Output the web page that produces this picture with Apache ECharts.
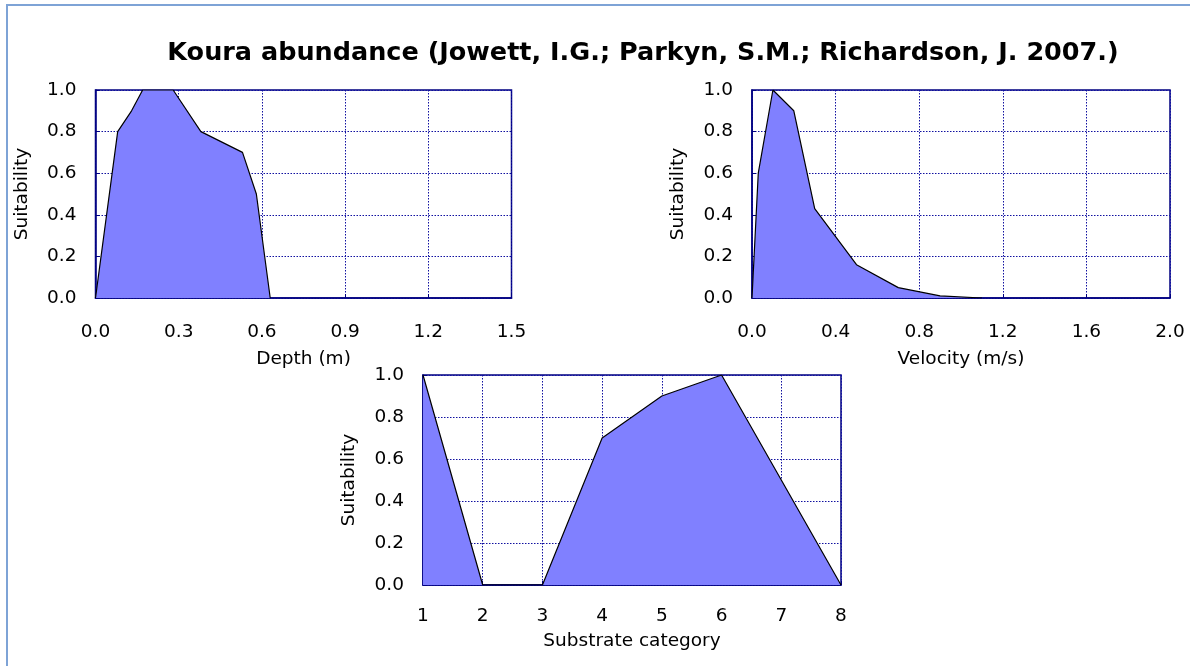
<!DOCTYPE html>
<html>
<head>
<meta charset="utf-8">
<script src="https://cdn.jsdelivr.net/npm/echarts@6/dist/echarts.min.js"></script>
<style>
html,body{margin:0;padding:0;background:#fff;}
#c{width:1190px;height:666px;}
</style>
</head>
<body>
<div id="c"></div>
<script>
// ---- data ----
var titleText = 'Koura abundance (Jowett, I.G.; Parkyn, S.M.; Richardson, J. 2007.)';
var depthX = [0, 0.08, 0.13, 0.17, 0.28, 0.38, 0.53, 0.58, 0.63];
var depthY = [0, 0.8, 0.9, 1.0, 1.0, 0.8, 0.7, 0.5, 0];
var velX = [0, 0.03, 0.1, 0.2, 0.3, 0.5, 0.7, 0.9, 1.1];
var velY = [0, 0.6, 1.0, 0.9, 0.43, 0.16, 0.05, 0.01, 0];
var subX = [1, 2, 3, 4, 5, 6, 7, 8];
var subY = [1, 0, 0, 0.7, 0.9, 1.0, 0.5, 0];
var axisNames = ['Depth (m)', 'Velocity (m/s)', 'Substrate category'];
var yName = 'Suitability';

function pairs(xs, ys){ return xs.map(function(x,i){ return [x, ys[i]]; }); }

var FONT = '"DejaVu Sans", "Liberation Sans", Arial, sans-serif';
var NAVY = '#000080';
var GRIDC = '#1010a0';
var FS = 18.5;

function xAxis(gi, min, max, interval, name, digits, margin, gap){
  return {
    type:'value', gridIndex:gi, min:min, max:max, interval:interval,
    name:name, nameLocation:'middle', nameGap:gap,
    nameTextStyle:{fontFamily:FONT, fontSize:FS, color:'#000'},
    axisLine:{show:true, lineStyle:{color:NAVY, width:1.5}},
    axisTick:{show:true, inside:true, length:4, lineStyle:{color:NAVY}},
    axisLabel:{fontFamily:FONT, fontSize:FS, color:'#000', margin:margin,
      formatter:function(v){ return digits ? Number(v).toFixed(digits) : String(Math.round(v)); }},
    splitLine:{show:true, lineStyle:{color:GRIDC, type:[1.5,1.5], width:1}}
  };
}
function yAxis(gi){
  return {
    type:'value', gridIndex:gi, min:0, max:1, interval:0.2,
    name:yName, nameLocation:'middle', nameGap:64, nameRotate:90,
    nameTextStyle:{fontFamily:FONT, fontSize:FS, color:'#000'},
    axisLine:{show:true, lineStyle:{color:NAVY, width:1.5}},
    axisTick:{show:true, inside:true, length:4, lineStyle:{color:NAVY}},
    axisLabel:{fontFamily:FONT, fontSize:FS, color:'#000', margin:19,
      formatter:function(v){ return Number(v).toFixed(1); }},
    splitLine:{show:true, lineStyle:{color:GRIDC, type:[1.5,1.5], width:1}}
  };
}
function series(gi, data){
  return {
    type:'line', xAxisIndex:gi, yAxisIndex:gi, data:data,
    symbol:'none', silent:true, animation:false,
    lineStyle:{color:'#000', width:1.2},
    areaStyle:{color:'#8080ff', opacity:1}
  };
}

var chart = echarts.init(document.getElementById('c'), null, {renderer:'canvas'});
chart.setOption({
  backgroundColor:'#fff',
  animation:false,
  title:{text:titleText, left:638, top:35, textAlign:'center',
    textStyle:{fontFamily:FONT, fontSize:25.5, fontWeight:'bold', color:'#000'}},
  graphic:[{type:'rect', shape:{x:7, y:5, width:1200, height:700},
    style:{fill:'none', stroke:'#7ea3d6', lineWidth:2}, silent:true}],
  grid:[
    {left:95.5, top:90, width:416, height:208, show:true, borderColor:NAVY, borderWidth:1.5, backgroundColor:'#fff'},
    {left:752, top:90, width:418, height:208, show:true, borderColor:NAVY, borderWidth:1.5, backgroundColor:'#fff'},
    {left:423, top:375, width:418, height:210, show:true, borderColor:NAVY, borderWidth:1.5, backgroundColor:'#fff'}
  ],
  xAxis:[
    xAxis(0, 0, 1.5, 0.3, axisNames[0], 1, 25, 52),
    xAxis(1, 0, 2.0, 0.4, axisNames[1], 1, 25, 52),
    xAxis(2, 1, 8, 1, axisNames[2], 0, 22, 47)
  ],
  yAxis:[yAxis(0), yAxis(1), yAxis(2)],
  series:[
    series(0, pairs(depthX, depthY)),
    series(1, pairs(velX, velY)),
    series(2, pairs(subX, subY))
  ]
});
</script>
</body>
</html>
